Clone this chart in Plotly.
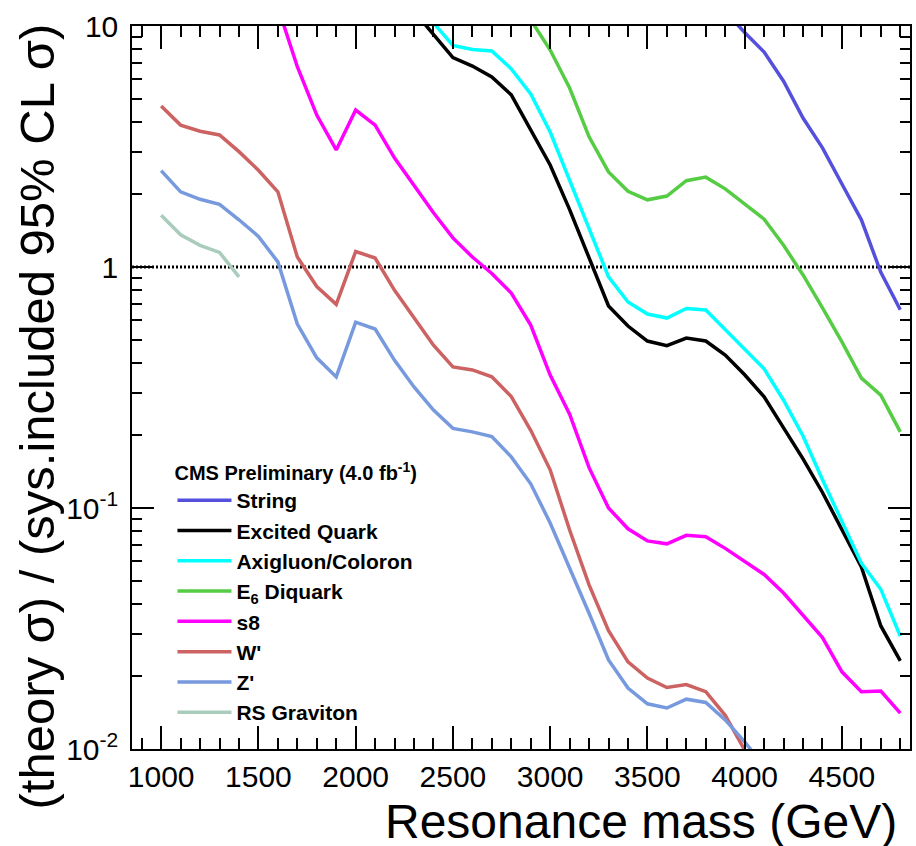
import plotly.graph_objects as go

# ------------------------------------------------------
# data (ratio theory / 95% CL limit)
# ------------------------------------------------------
string_mass = [3900, 4000, 4100, 4200, 4300, 4400, 4500, 4600, 4700, 4800]
string_ratio = [11.5, 9.4, 7.8, 5.9, 4.15, 3.12, 2.21, 1.57, 0.95, 0.665]

qstar_mass = [2300, 2400, 2500, 2600, 2700, 2800, 2900, 3000, 3100, 3200, 3300, 3400, 3500,
              3600, 3700, 3800, 3900, 4000, 4100, 4200, 4300, 4400, 4500, 4600, 4700, 4800]
qstar_ratio = [11.5, 9.26, 7.4, 6.82, 6.14, 5.18, 3.7, 2.65, 1.73, 1.09, 0.689, 0.569, 0.493,
               0.472, 0.507, 0.493, 0.431, 0.357, 0.289, 0.215, 0.16, 0.116, 0.081, 0.057, 0.0324, 0.0232]

axi_mass = [2400, 2500, 2600, 2700, 2800, 2900, 3000, 3100, 3200, 3300, 3400, 3500, 3600,
            3700, 3800, 3900, 4000, 4100, 4200, 4300, 4400, 4500, 4600, 4700, 4800]
axi_ratio = [10.3, 8.3, 7.99, 7.87, 6.64, 5.22, 3.63, 2.3, 1.43, 0.91, 0.716, 0.638, 0.614,
             0.673, 0.663, 0.548, 0.453, 0.378, 0.28, 0.199, 0.131, 0.088, 0.059, 0.046, 0.0294]

diq_mass = [2900, 3000, 3100, 3200, 3300, 3400, 3500, 3600, 3700, 3800, 3900, 4000, 4100,
            4200, 4300, 4400, 4500, 4600, 4700, 4800]
diq_ratio = [10.6, 7.95, 5.53, 3.47, 2.48, 2.06, 1.9, 1.97, 2.28, 2.36, 2.11, 1.82, 1.58,
             1.23, 0.927, 0.676, 0.489, 0.346, 0.294, 0.207]

s8_mass = [1600, 1700, 1800, 1900, 2000, 2100, 2200, 2300, 2400, 2500, 2600, 2700, 2800, 2900,
           3000, 3100, 3200, 3300, 3400, 3500, 3600, 3700, 3800, 3900, 4000, 4100, 4200,
           4300, 4400, 4500, 4600, 4700, 4800]
s8_ratio = [12.0, 6.78, 4.27, 3.06, 4.48, 3.88, 2.83, 2.19, 1.68, 1.32, 1.1, 0.94, 0.78, 0.574,
            0.356, 0.245, 0.147, 0.1, 0.082, 0.073, 0.071, 0.077, 0.076, 0.068, 0.06, 0.053, 0.0444,
            0.036, 0.029, 0.0209, 0.0173, 0.0174, 0.0141]

wprime_mass = [1000, 1100, 1200, 1300, 1400, 1500, 1600, 1700, 1800, 1900, 2000, 2100, 2200,
               2300, 2400, 2500, 2600, 2700, 2800, 2900, 3000, 3100, 3200, 3300, 3400, 3500,
               3600, 3700, 3800, 3900, 4000]
wprime_ratio = [4.66, 3.88, 3.66, 3.53, 3.01, 2.52, 2.05, 1.1, 0.83, 0.7, 1.16, 1.09, 0.8,
                0.62, 0.474, 0.385, 0.374, 0.35, 0.29, 0.21, 0.144, 0.081, 0.048, 0.031, 0.023, 0.0197,
                0.018, 0.0185, 0.0173, 0.0138, 0.0099]

zprime_mass = [1000, 1100, 1200, 1300, 1400, 1500, 1600, 1700, 1800, 1900, 2000, 2100, 2200,
               2300, 2400, 2500, 2600, 2700, 2800, 2900, 3000, 3100, 3200, 3300, 3400, 3500,
               3600, 3700, 3800, 3900, 4000, 4100]
zprime_ratio = [2.51, 2.05, 1.91, 1.82, 1.57, 1.34, 1.05, 0.58, 0.42, 0.35, 0.59, 0.553, 0.41,
                0.318, 0.255, 0.214, 0.207, 0.198, 0.163, 0.126, 0.0867, 0.0567, 0.0366, 0.0234, 0.0179,
                0.0154, 0.0148, 0.0161, 0.0156, 0.0132, 0.0107, 0.0085]

rsg_mass = [1000, 1100, 1200, 1300, 1400]
rsg_ratio = [1.64, 1.36, 1.23, 1.15, 0.91]

y_tickvals = [0.01, 0.1, 1, 10]
y_ticktext = ["10<sup>-2</sup>", "10<sup>-1</sup>", "1", "10"]

FONT = "Liberation Sans, Arial, Helvetica, sans-serif"

series = [
    ("String", string_mass, string_ratio, "#5550dc"),
    ("Excited Quark", qstar_mass, qstar_ratio, "#000000"),
    ("Axigluon/Coloron", axi_mass, axi_ratio, "#00ffff"),
    ("E<sub>6</sub> Diquark", diq_mass, diq_ratio, "#55cc44"),
    ("s8", s8_mass, s8_ratio, "#ff00ff"),
    ("W'", wprime_mass, wprime_ratio, "#cc6262"),
    ("Z'", zprime_mass, zprime_ratio, "#7799dd"),
    ("RS Graviton", rsg_mass, rsg_ratio, "#a9ccbd"),
]

fig = go.Figure()
for name, xs, ys, col in series:
    fig.add_trace(go.Scatter(x=xs, y=ys, mode="lines", name=name,
                             line=dict(color=col, width=3.5)))

# ratio = 1 reference line
fig.add_shape(type="line", xref="paper", x0=0, x1=1, yref="y", y0=1, y1=1,
              line=dict(color="black", width=3, dash="2px,2px"), layer="below")

y_minor = [m * 10 ** e for e in (-2, -1, 0) for m in range(2, 10)]

fig.update_layout(
    width=916, height=846,
    margin=dict(l=132, r=4, t=26, b=97),
    plot_bgcolor="white", paper_bgcolor="white",
    font=dict(family=FONT, color="black", size=30),
    legend=dict(
        x=0.052, y=0.408, xanchor="left", yanchor="top",
        bgcolor="rgba(0,0,0,0)",
        font=dict(family=FONT, size=21, weight="bold"),
        title=dict(text="CMS Preliminary (4.0 fb<sup>-1</sup>)",
                   font=dict(family=FONT, size=20, weight="bold")),
        itemwidth=54,
    ),
    xaxis=dict(
        range=[850, 4850], dtick=500, tick0=0,
        ticks="inside", ticklen=23, tickwidth=1.5, tickcolor="black",
        minor=dict(ticks="inside", ticklen=11, dtick=100, tick0=0, tickcolor="black", tickwidth=1.5),
        showline=True, linecolor="black", linewidth=1.5, mirror="ticks",
        showgrid=False, zeroline=False,
        tickfont=dict(size=30),
    ),
    yaxis=dict(
        type="log", range=[-2, 1],
        tickmode="array", tickvals=y_tickvals, ticktext=y_ticktext,
        ticks="inside", ticklen=22, tickwidth=1.5, tickcolor="black",
        minor=dict(ticks="inside", ticklen=10, tickmode="array", tickvals=y_minor,
                   tickcolor="black", tickwidth=1.5),
        showline=True, linecolor="black", linewidth=1.5, mirror="ticks",
        showgrid=False, zeroline=False,
        tickfont=dict(size=30), ticklabelstandoff=6,
    ),
    annotations=[
        dict(text="Resonance mass (GeV)", xref="paper", yref="paper",
             x=0.654, y=-0.1, xanchor="center", yanchor="middle",
             showarrow=False, font=dict(size=48)),
        dict(text="(theory σ) / (sys.included 95% CL σ)", xref="paper", yref="paper",
             x=-0.122, y=0.46, xanchor="center", yanchor="middle", textangle=-90,
             showarrow=False, font=dict(size=49)),
    ],
)

# page body has an 8px default margin; drop it so the figure fills the window
fig.write_html("out.html", config={"displayModeBar": False},
               post_script="document.body.style.margin='0px';")
